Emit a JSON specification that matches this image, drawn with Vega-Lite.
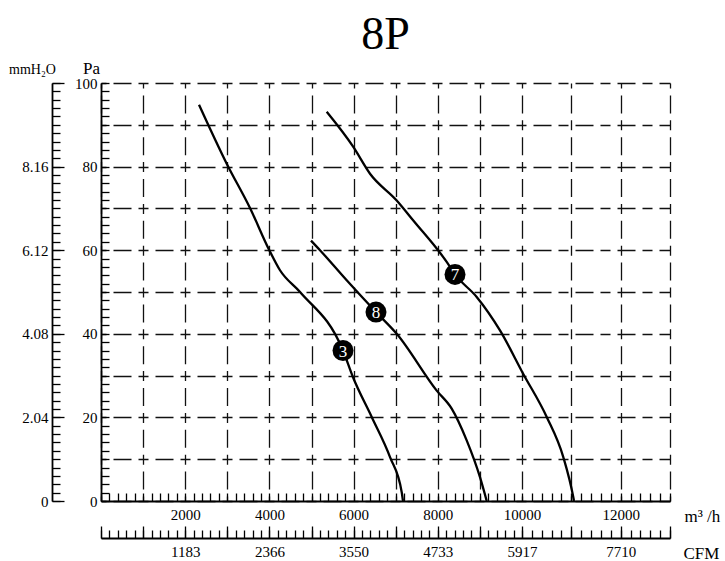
{
  "$schema": "https://vega.github.io/schema/vega-lite/v6.json",
  "width": 569,
  "height": 418,
  "autosize": "none",
  "padding": {"left": 101, "top": 83, "right": 55, "bottom": 60},
  "background": "white",
  "title": {"text": "8P", "font": "Liberation Serif", "fontSize": 46, "fontWeight": "normal", "color": "black", "anchor": "middle", "baseline": "alphabetic", "offset": 10, "dy": 46},
  "config": {
    "view": {"stroke": null},
    "axis": {
      "labelFont": "Liberation Serif", "labelFontSize": 15, "labelColor": "black",
      "titleFont": "Liberation Serif", "titleFontSize": 17, "titleFontWeight": "normal", "titleColor": "black",
      "domainColor": "black", "domainWidth": 1.8, "tickColor": "black", "tickWidth": 1.3,
      "labelOverlap": false, "labelFlush": false, "labelBound": false, "grid": false
    }
  },
  "datasets": {
    "curves": [
      {"curve": "3", "q": 2328, "p": 94.8}, {"curve": "3", "q": 2986, "p": 80.7}, {"curve": "3", "q": 3539, "p": 70.1},
      {"curve": "3", "q": 3998, "p": 60.0}, {"curve": "3", "q": 4252, "p": 55.2}, {"curve": "3", "q": 4727, "p": 50.0},
      {"curve": "3", "q": 5748, "p": 36.0}, {"curve": "3", "q": 5986, "p": 29.6}, {"curve": "3", "q": 6430, "p": 20.1},
      {"curve": "3", "q": 6865, "p": 10.5}, {"curve": "3", "q": 7143, "p": 2.1}, {"curve": "3", "q": 7173, "p": 0},
      {"curve": "8", "q": 4988, "p": 62.3}, {"curve": "8", "q": 5202, "p": 60.0}, {"curve": "8", "q": 5836, "p": 52.8},
      {"curve": "8", "q": 6532, "p": 45.2}, {"curve": "8", "q": 7024, "p": 40.0}, {"curve": "8", "q": 7974, "p": 26.4},
      {"curve": "8", "q": 8330, "p": 22.1}, {"curve": "8", "q": 8686, "p": 14.5}, {"curve": "8", "q": 9002, "p": 5.7},
      {"curve": "8", "q": 9162, "p": 0},
      {"curve": "7", "q": 5361, "p": 93.1}, {"curve": "7", "q": 5993, "p": 84.7}, {"curve": "7", "q": 6390, "p": 78.3},
      {"curve": "7", "q": 7024, "p": 71.9}, {"curve": "7", "q": 7418, "p": 67.1}, {"curve": "7", "q": 8211, "p": 57.2},
      {"curve": "7", "q": 8409, "p": 54.2}, {"curve": "7", "q": 8924, "p": 48.8}, {"curve": "7", "q": 9477, "p": 40.8},
      {"curve": "7", "q": 10026, "p": 30.4}, {"curve": "7", "q": 10501, "p": 20.1}, {"curve": "7", "q": 10837, "p": 10.5},
      {"curve": "7", "q": 11040, "p": 0.9}, {"curve": "7", "q": 11054, "p": 0}
    ],
    "markers": [
      {"curve": "3", "q": 5748, "p": 36.0},
      {"curve": "8", "q": 6532, "p": 45.2},
      {"curve": "7", "q": 8409, "p": 54.2}
    ]
  },
  "layer": [
    {
      "data": {"name": "curves"},
      "mark": {"type": "line", "color": "black", "strokeWidth": 2.3, "interpolate": "monotone"},
      "encoding": {
        "detail": {"field": "curve"},
        "x": {"field": "q", "type": "quantitative",
          "scale": {"domain": [0, 10000, 13000], "range": [0, 421, 569], "nice": false},
          "axis": {"orient": "bottom", "tickSize": -8, "labelPadding": 14,
            "values": [0,200,400,600,800,1000,1200,1400,1600,1800,2000,2200,2400,2600,2800,3000,3200,3400,3600,3800,4000,4200,4400,4600,4800,5000,5200,5400,5600,5800,6000,6200,6400,6600,6800,7000,7200,7400,7600,7800,8000,8200,8400,8600,8800,9000,9200,9400,9600,9800,10000,10200,10400,10600,10800,11000,11200,11400,11600,11800,12000,12200,12400,12600,12800,13000],
            "labelExpr": "(datum.value % 2000 == 0 && datum.value > 0 && datum.value < 13000) ? ('' + datum.value) : ''",
            "title": "m³ /h", "titleAngle": 0, "titleX": 583, "titleY": 20, "titleAlign": "left", "titleBaseline": "alphabetic"}},
        "y": {"field": "p", "type": "quantitative",
          "scale": {"domain": [0, 100], "nice": false, "zero": true},
          "axis": {"orient": "left", "tickSize": -8, "labelPadding": 12,
            "values": [0,2,4,6,8,10,12,14,16,18,20,22,24,26,28,30,32,34,36,38,40,42,44,46,48,50,52,54,56,58,60,62,64,66,68,70,72,74,76,78,80,82,84,86,88,90,92,94,96,98,100],
            "labelExpr": "datum.value % 20 == 0 ? ('' + datum.value) : ''",
            "title": "Pa", "titleAngle": 0, "titleX": -10, "titleY": -10, "titleAlign": "center", "titleBaseline": "alphabetic"}}
      }
    },
    {
      "data": {"name": "markers"},
      "mark": {"type": "point", "shape": "circle", "filled": true, "fill": "black", "opacity": 1, "size": 440, "strokeWidth": 0},
      "encoding": {
        "x": {"field": "q", "type": "quantitative",
          "scale": {"domain": [0, 10000, 13000], "range": [0, 421, 569], "nice": false},
          "axis": {"orient": "bottom", "values": [0,1000,2000,3000,4000,5000,6000,7000,8000,9000,10000,11000,12000,13000],
            "ticks": false, "labels": false, "domain": false, "title": null,
            "grid": true, "gridColor": "#111", "gridWidth": 1.3, "gridOpacity": 1, "gridDash": [10, 6.9, 18, 6.9], "gridDashOffset": 5}},
        "y": {"field": "p", "type": "quantitative",
          "scale": {"domain": [0, 100], "nice": false, "zero": true},
          "axis": {"orient": "left", "values": [0,10,20,30,40,50,60,70,80,90,100],
            "ticks": false, "labels": false, "domain": false, "title": null,
            "grid": true, "gridColor": "#111", "gridWidth": 1.3, "gridOpacity": 1, "gridDash": [10, 7, 18, 7], "gridDashOffset": 5}}
      }
    },
    {
      "data": {"name": "markers"},
      "mark": {"type": "text", "color": "white", "font": "Liberation Serif", "fontSize": 17, "baseline": "middle", "align": "center", "dy": 1},
      "encoding": {
        "text": {"field": "curve"},
        "x": {"field": "q", "type": "quantitative",
          "scale": {"domain": [0, 10000, 13000], "range": [0, 421, 569], "nice": false},
          "axis": {"orient": "bottom", "offset": 37, "tickSize": -8, "labelPadding": 14,
            "values": [0,200,400,600,800,1000,1200,1400,1600,1800,2000,2200,2400,2600,2800,3000,3200,3400,3600,3800,4000,4200,4400,4600,4800,5000,5200,5400,5600,5800,6000,6200,6400,6600,6800,7000,7200,7400,7600,7800,8000,8200,8400,8600,8800,9000,9200,9400,9600,9800,10000,10200,10400,10600,10800,11000,11200,11400,11600,11800,12000,12200,12400,12600,12800,13000],
            "labelExpr": "datum.value == 2000 ? '1183' : datum.value == 4000 ? '2366' : datum.value == 6000 ? '3550' : datum.value == 8000 ? '4733' : datum.value == 10000 ? '5917' : datum.value == 12000 ? '7710' : ''",
            "title": "CFM", "titleAngle": 0, "titleX": 582, "titleY": 20, "titleAlign": "left", "titleBaseline": "alphabetic"}},
        "y": {"field": "p", "type": "quantitative",
          "scale": {"domain": [0, 100], "nice": false, "zero": true},
          "axis": {"orient": "left", "offset": 49, "tickSize": -12, "labelPadding": 16,
            "values": [0, 20, 40, 60, 80, 100],
            "labelExpr": "datum.value == 0 ? '0' : datum.value == 100 ? '' : format(datum.value * 0.102, '.2f')",
            "title": "mmH₂O", "titleFontSize": 14, "titleAngle": 0, "titleX": -20, "titleY": -10, "titleAlign": "center", "titleBaseline": "alphabetic"}}
      }
    },
    {
      "data": {"name": "markers"},
      "mark": {"type": "point", "opacity": 0},
      "encoding": {
        "x": {"field": "q", "type": "quantitative",
          "scale": {"domain": [0, 10000, 13000], "range": [0, 421, 569], "nice": false},
          "axis": {"orient": "bottom", "offset": 37, "tickSize": -12, "labels": false, "domain": false, "title": null,
            "values": [0,1000,2000,3000,4000,5000,6000,7000,8000,9000,10000,11000,12000,13000]}},
        "y": {"field": "p", "type": "quantitative",
          "scale": {"domain": [0, 100], "nice": false, "zero": true},
          "axis": {"orient": "left", "offset": 49, "tickSize": -8, "labels": false, "domain": false, "title": null,
            "values": [0,2,4,6,8,10,12,14,16,18,20,22,24,26,28,30,32,34,36,38,40,42,44,46,48,50,52,54,56,58,60,62,64,66,68,70,72,74,76,78,80,82,84,86,88,90,92,94,96,98,100]}}
      }
    }
  ],
  "resolve": {"scale": {"x": "independent", "y": "independent"}, "axis": {"x": "independent", "y": "independent"}}
}
